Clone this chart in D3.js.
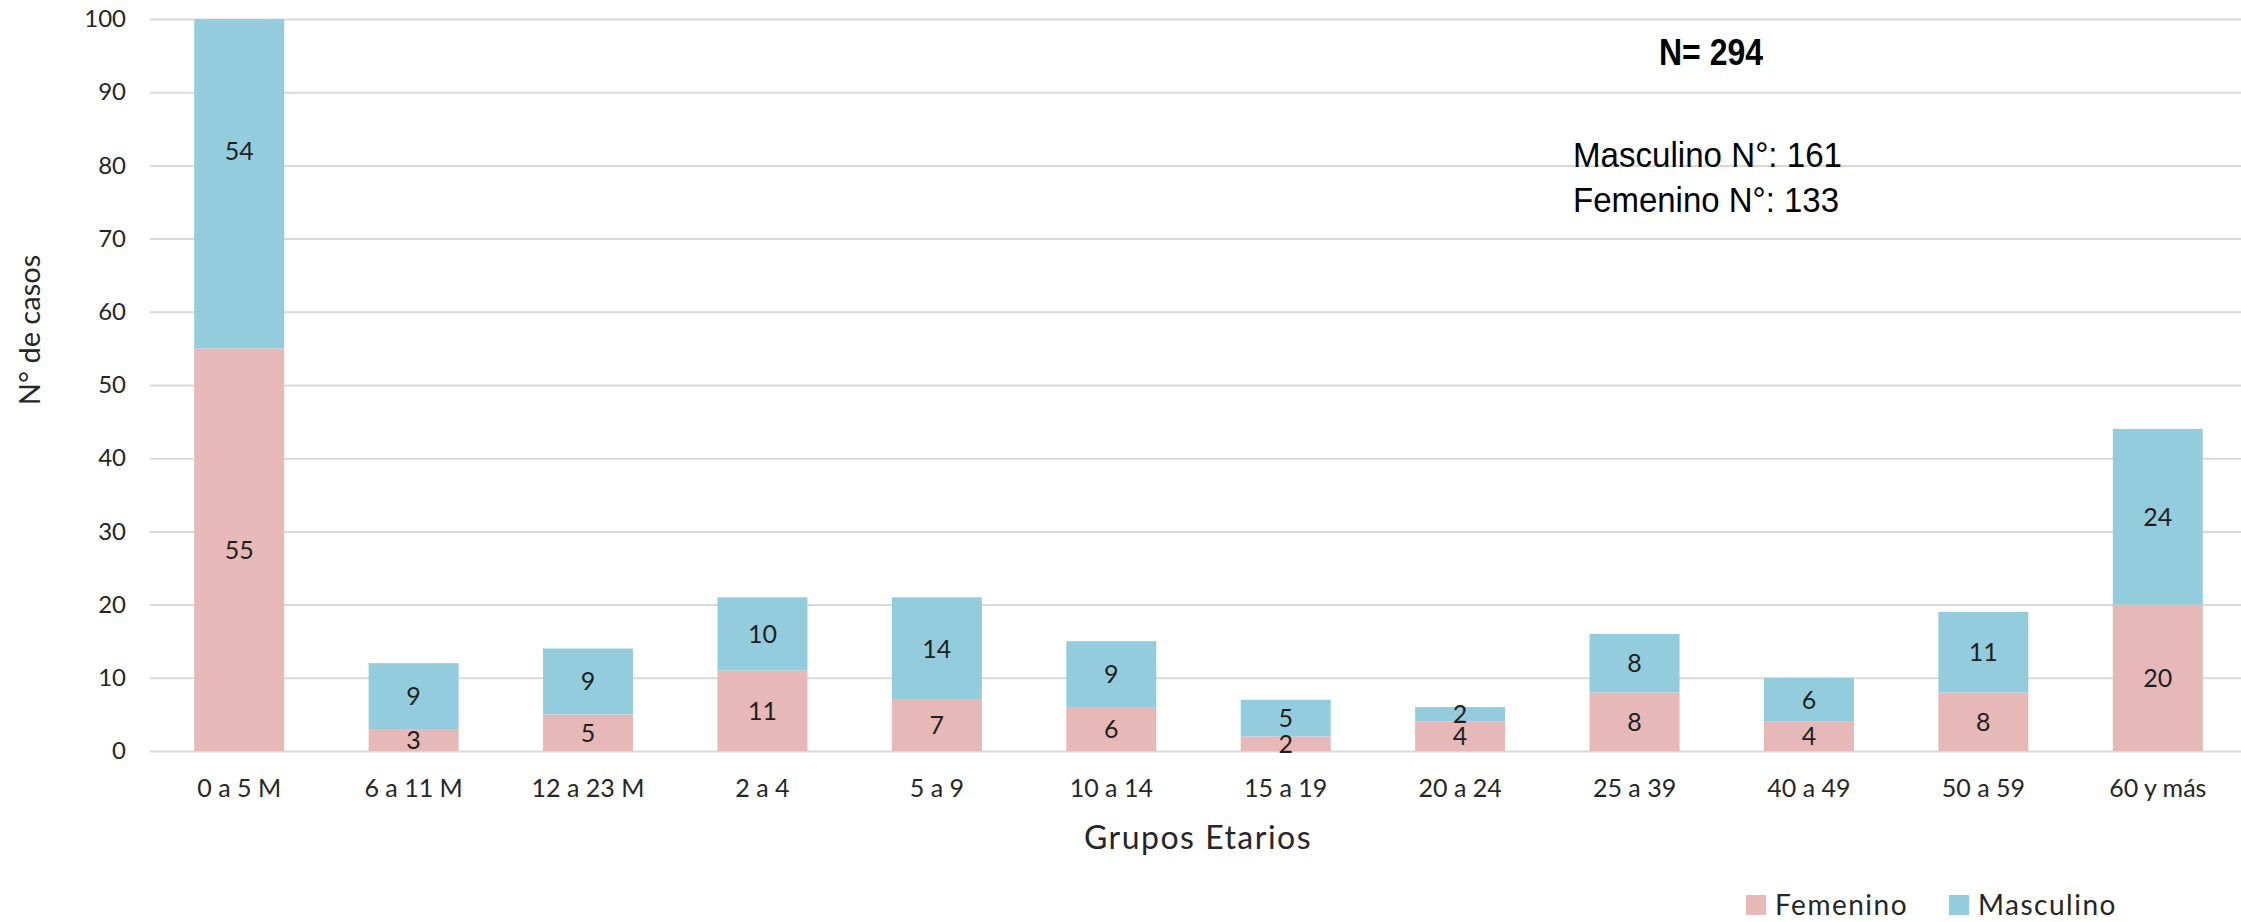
<!DOCTYPE html>
<html>
<head>
<meta charset="utf-8">
<script src="https://cdn.jsdelivr.net/npm/d3@7"></script>
<style>
  body { margin: 0; background: #fff; }
  svg { display: block; }
</style>
</head>
<body>
<script>
// data
const categories = ["0 a 5 M", "6 a 11 M", "12 a 23 M", "2 a 4", "5 a 9", "10 a 14", "15 a 19", "20 a 24", "25 a 39", "40 a 49", "50 a 59", "60 y más"];
const femenino = [55, 3, 5, 11, 7, 6, 2, 4, 8, 4, 8, 20];
const masculino = [54, 9, 9, 10, 14, 9, 5, 2, 8, 6, 11, 24];
const yTicks = [0, 10, 20, 30, 40, 50, 60, 70, 80, 90, 100];
const seriesNames = ["Femenino", "Masculino"];
const colors = ["#E6B9B8", "#93CDDD"];

const width = 2241, height = 922;
const plotLeft = 150, plotTop = 19, plotBottom = 751;

const svg = d3.select("body").append("svg")
  .attr("width", width)
  .attr("height", height)
  .style("font-family", "Lato, 'Open Sans', sans-serif");

const x = d3.scaleBand()
  .domain(categories)
  .range([152, 2245])
  .paddingInner(0.484)
  .paddingOuter(0.242);

const y = d3.scaleLinear()
  .domain([0, 100])
  .range([plotBottom, plotTop]);

// gridlines + y tick labels
const yAxis = svg.append("g")
  .attr("transform", `translate(${plotLeft},0)`)
  .call(d3.axisLeft(y).tickValues(yTicks).tickSizeInner(-(width - plotLeft)).tickSizeOuter(0).tickPadding(24));
yAxis.select(".domain").remove();
yAxis.selectAll(".tick line").attr("stroke", "#d9d9d9").attr("stroke-width", 2);
yAxis.selectAll(".tick text")
  .attr("fill", "#262626")
  .style("font-size", "24px")
  .style("font-family", "Lato, sans-serif");

// stacked data
const rows = categories.map((c, i) => ({ cat: c, Femenino: femenino[i], Masculino: masculino[i] }));
const stack = d3.stack().keys(seriesNames)(rows);

svg.append("clipPath").attr("id", "plotClip")
  .append("rect").attr("x", 0).attr("y", plotTop).attr("width", width).attr("height", plotBottom - plotTop + 2);

const layers = svg.append("g").attr("clip-path", "url(#plotClip)")
  .selectAll("g.layer")
  .data(stack)
  .join("g")
  .attr("class", "layer")
  .attr("fill", (d, i) => colors[i]);

layers.selectAll("rect")
  .data(d => d)
  .join("rect")
  .attr("x", d => x(d.data.cat))
  .attr("width", x.bandwidth())
  .attr("y", d => y(d[1]))
  .attr("height", d => y(d[0]) - y(d[1]));

// value labels (centred on the full segment, even when clipped)
const labels = svg.append("g");
stack.forEach(layer => {
  labels.selectAll(null)
    .data(layer)
    .join("text")
    .attr("x", d => x(d.data.cat) + x.bandwidth() / 2)
    .attr("y", d => y((d[0] + d[1]) / 2))
    .attr("dy", "0.36em")
    .attr("text-anchor", "middle")
    .attr("fill", "#1f1f1f")
    .style("font-size", "25px")
    .text(d => d[1] - d[0]);
});

// x axis labels
svg.append("g")
  .attr("transform", `translate(0,${plotBottom})`)
  .call(d3.axisBottom(x).tickSize(0).tickPadding(28))
  .call(g => g.select(".domain").remove())
  .selectAll("text")
  .attr("fill", "#262626")
  .style("font-size", "25px")
  .style("font-family", "Lato, sans-serif");

// axis titles
svg.append("text")
  .attr("x", 1198)
  .attr("y", 849)
  .attr("text-anchor", "middle")
  .attr("fill", "#262626")
  .style("font-size", "32px")
  .style("letter-spacing", "1.5px")
  .text("Grupos Etarios");

svg.append("text")
  .attr("transform", "translate(40,330) rotate(-90)")
  .attr("text-anchor", "middle")
  .attr("fill", "#262626")
  .style("font-size", "29px")
  .text("N° de casos");

// annotations (narrow face, squeezed to the reference widths)
const narrow = "'Liberation Sans Narrow', 'Liberation Sans', Arial, sans-serif";
svg.append("text")
  .attr("x", 1659)
  .attr("y", 65)
  .attr("fill", "#000")
  .attr("textLength", 104)
  .attr("lengthAdjust", "spacingAndGlyphs")
  .style("font-family", narrow)
  .style("font-weight", "bold")
  .style("font-size", "37px")
  .text("N= 294");

svg.append("text")
  .attr("x", 1573)
  .attr("y", 167)
  .attr("fill", "#000")
  .attr("textLength", 269)
  .attr("lengthAdjust", "spacingAndGlyphs")
  .style("font-family", narrow)
  .style("font-size", "35px")
  .text("Masculino N°: 161");

svg.append("text")
  .attr("x", 1573)
  .attr("y", 212)
  .attr("fill", "#000")
  .attr("textLength", 266)
  .attr("lengthAdjust", "spacingAndGlyphs")
  .style("font-family", narrow)
  .style("font-size", "35px")
  .text("Femenino N°: 133");

// legend
const legendX = [1746, 1949];
const legend = svg.append("g");
seriesNames.forEach((name, i) => {
  legend.append("rect")
    .attr("x", legendX[i])
    .attr("y", 895)
    .attr("width", 20)
    .attr("height", 20)
    .attr("fill", colors[i]);
  legend.append("text")
    .attr("x", legendX[i] + 29)
    .attr("y", 905)
    .attr("dy", "0.36em")
    .attr("fill", "#262626")
    .style("font-size", "28px")
    .style("letter-spacing", "1.5px")
    .text(name);
});
</script>
</body>
</html>
